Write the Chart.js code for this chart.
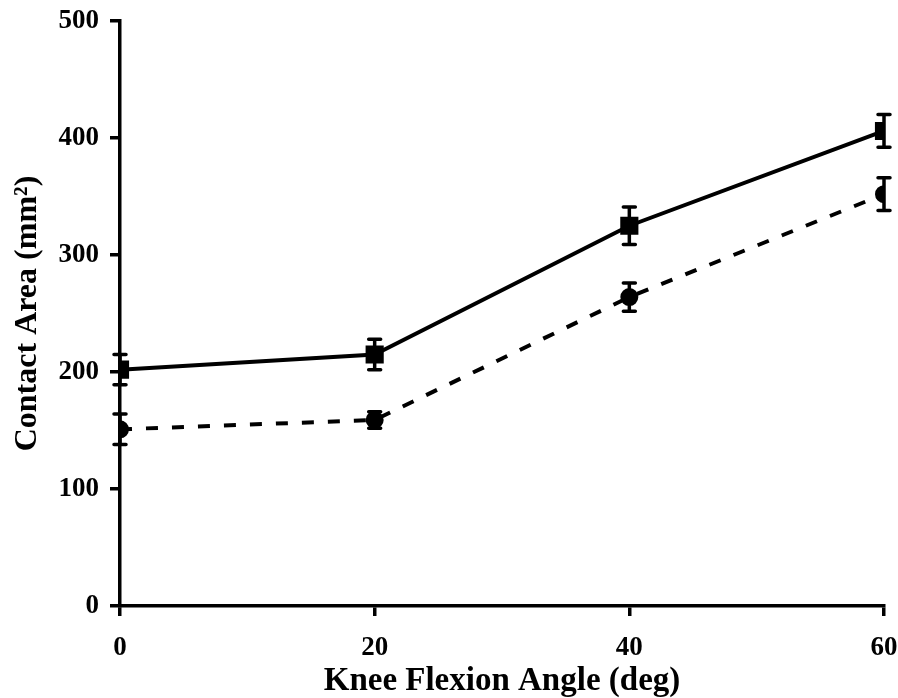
<!DOCTYPE html>
<html>
<head>
<meta charset="utf-8">
<script src="https://cdn.jsdelivr.net/npm/chart.js@4/dist/chart.umd.min.js"></script>
<style>
  body { margin: 0; background: #fff; }
  #wrap { width: 898px; height: 698px; }
</style>
</head>
<body>
<div id="wrap"><canvas id="ContactChart" width="898" height="698"></canvas></div>
<script>
// data
var angles = [0, 20, 40, 60];
var solidArea = [202, 215, 325, 406];
var solidErr = [13, 13, 16, 14];
var dashedArea = [151, 159, 264, 352];
var dashedErr = [13, 7, 12, 14];
var yTicks = [0, 100, 200, 300, 400, 500];

function toPoints(xs, ys) {
    var out = [];
    for (var i = 0; i < xs.length; i++) out.push({x: xs[i], y: ys[i]});
    return out;
}

// draws the error bars through the chart scales
var errorBars = {
    id: 'errorBars',
    afterDatasetsDraw: function(chart) {
        var ctx = chart.ctx;
        var xs = chart.scales.x, ys = chart.scales.y;
        chart.data.datasets.forEach(function(ds) {
            if (!ds.err) return;
            ctx.save();
            ctx.strokeStyle = '#000';
            ctx.lineWidth = 3.5;
            ctx.lineCap = 'round';
            ctx.setLineDash([]);
            ds.data.forEach(function(p, i) {
                var px = xs.getPixelForValue(p.x);
                var top = ys.getPixelForValue(p.y + ds.err[i]);
                var bot = ys.getPixelForValue(p.y - ds.err[i]);
                ctx.beginPath();
                ctx.moveTo(px, top); ctx.lineTo(px, bot);
                ctx.moveTo(px - 6, top); ctx.lineTo(px + 6, top);
                ctx.moveTo(px - 6, bot); ctx.lineTo(px + 6, bot);
                ctx.stroke();
            });
            ctx.restore();
        });
    }
};

var serif = '"Liberation Serif", "Times New Roman", serif';
var tickFont = {family: serif, size: 27, weight: 'bold'};

var ctx = document.getElementById('ContactChart').getContext('2d');
var chart = new Chart(ctx, {
    type: 'scatter',
    data: {
        datasets: [{
            label: 'solid',
            data: toPoints(angles, solidArea),
            err: solidErr,
            showLine: true,
            borderColor: '#000',
            backgroundColor: '#000',
            borderWidth: 4,
            pointStyle: 'rect',
            pointRadius: 10,
            pointHoverRadius: 10
        }, {
            label: 'dashed',
            data: toPoints(angles, dashedArea),
            err: dashedErr,
            showLine: true,
            borderColor: '#000',
            backgroundColor: '#000',
            borderWidth: 4,
            borderDash: [12, 14],
            pointStyle: 'circle',
            pointRadius: 7,
            pointHoverRadius: 7
        }]
    },
    options: {
        responsive: false,
        animation: false,
        layout: {padding: {top: 21, right: 14, left: 9, bottom: 0}},
        plugins: {legend: {display: false}, tooltip: {enabled: false}},
        scales: {
            x: {
                type: 'linear',
                min: 0, max: 60,
                afterBuildTicks: function(axis) {
                    axis.ticks = angles.map(function(v) { return {value: v}; });
                },
                afterFit: function(axis) {
                    axis.height = 92;
                    axis.paddingLeft = 0; axis.paddingRight = 0;
                    axis.paddingTop = 0; axis.paddingBottom = 0;
                },
                grid: {display: true, drawOnChartArea: false, drawTicks: true, tickLength: 10, color: '#000', lineWidth: 3.5},
                border: {display: true, color: '#000', width: 3.5},
                ticks: {color: '#000', font: tickFont, padding: 16},
                title: {display: true, text: 'Knee Flexion Angle (deg)', color: '#000', font: {family: serif, size: 33, weight: 'bold', lineHeight: 1}, padding: {top: 0, bottom: 0}}
            },
            y: {
                min: 0, max: 500,
                afterBuildTicks: function(axis) {
                    axis.ticks = yTicks.map(function(v) { return {value: v}; });
                },
                afterFit: function(axis) {
                    axis.width = 111;
                    axis.paddingLeft = 0; axis.paddingRight = 0;
                    axis.paddingTop = 0; axis.paddingBottom = 0;
                },
                grid: {display: true, drawOnChartArea: false, drawTicks: true, tickLength: 10, color: '#000', lineWidth: 3.5},
                border: {display: true, color: '#000', width: 3.5},
                ticks: {color: '#000', font: tickFont, padding: 11},
                title: {display: true, text: 'Contact Area (mm²)', color: '#000', font: {family: serif, size: 32, weight: 'bold'}, padding: {top: 0, bottom: 1}}
            }
        }
    },
    plugins: [errorBars]
});
</script>
</body>
</html>
